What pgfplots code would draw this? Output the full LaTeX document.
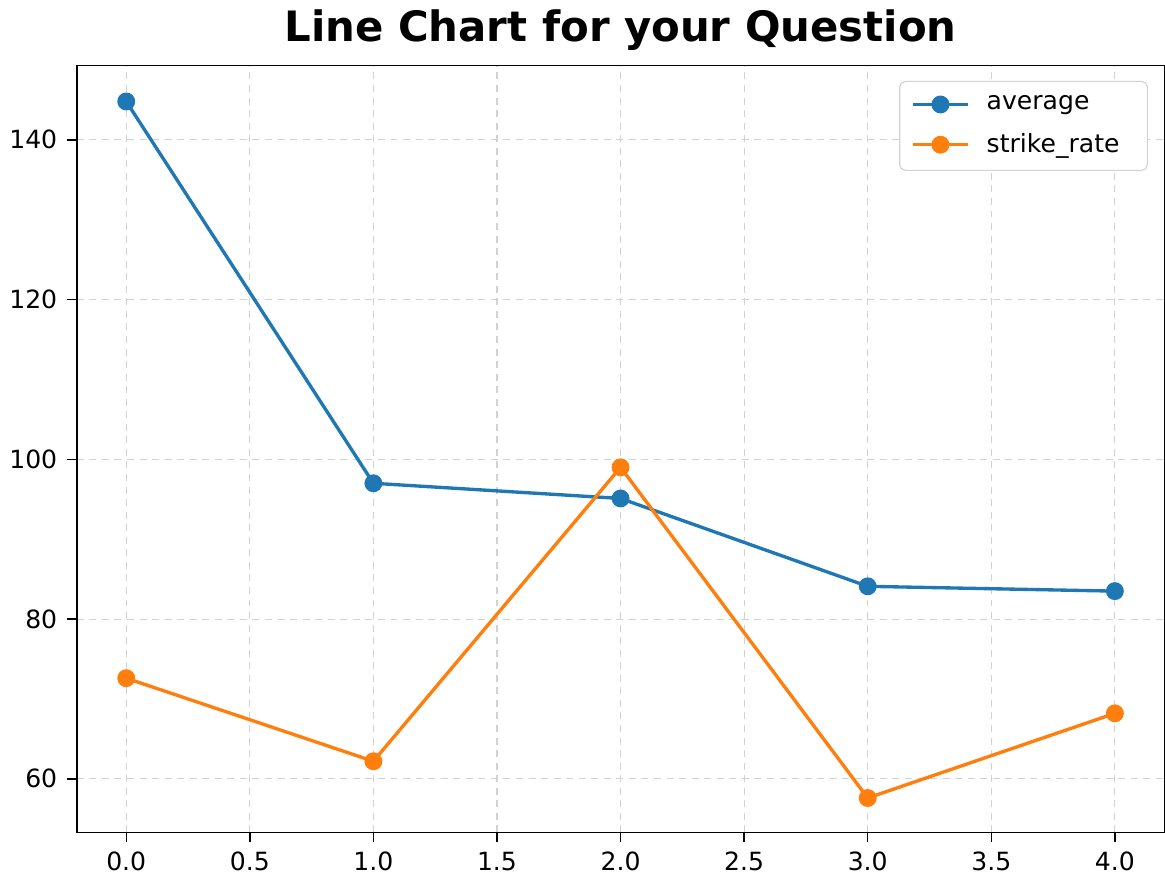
\documentclass[border=0pt]{standalone}
\usepackage{pgfplots}
\pgfplotsset{compat=1.18}
\usepackage{fontspec}
\setmainfont{DejaVu Sans}
\definecolor{c0}{HTML}{1F77B4}
\definecolor{c1}{HTML}{FF7F0E}
\begin{document}
\begin{tikzpicture}
\begin{axis}[
  scale only axis,
  width=390pt, height=275pt,
  xmin=-0.2, xmax=4.2,
  ymin=53.3, ymax=149.3,
  xtick={0,0.5,...,4},
  ytick={60,80,100,120,140},
  xtick pos=bottom, ytick pos=left,
  xticklabel style={/pgf/number format/.cd,fixed,fixed zerofill,precision=1},
  /pgf/number format/assume math mode=true,
  tick label style={font=\fontsize{9}{11}\selectfont},
  tick align=outside,
  tick style={black, line width=0.5pt},
  major tick length=3.5pt,
  grid=major,
  grid style={dash pattern=on 2.5pt off 2pt, gray!35, line width=0.4pt},
  axis line style={line width=0.5pt},
  title={\bfseries Line Chart for your Question},
  title style={font=\fontsize{15}{18}\selectfont, yshift=-4pt},
  legend style={font=\fontsize{9}{11}\selectfont, draw=gray!35, rounded corners=2pt, row sep=3pt, inner xsep=4pt, inner ysep=3pt, at={(0.985,0.98)}, anchor=north east,
    nodes={inner xsep=6pt}},
  legend cell align=left,
  legend image code/.code={
    \draw[#1, mark=none] (0pt,0pt) -- (20pt,0pt);
    \draw[#1, only marks] plot coordinates {(10pt,0pt)};
  },
]
\addplot[c0, line width=1.2pt, mark=*, mark size=2.6pt, mark options={solid}] coordinates {
(0,144.8) (1,97.0) (2,95.1) (3,84.1) (4,83.5)};
\addlegendentry{average}
\addplot[c1, line width=1.2pt, mark=*, mark size=2.6pt, mark options={solid}] coordinates {
(0,72.6) (1,62.2) (2,99.0) (3,57.6) (4,68.2)};
\addlegendentry{strike\_rate}
\end{axis}
\end{tikzpicture}
\end{document}
